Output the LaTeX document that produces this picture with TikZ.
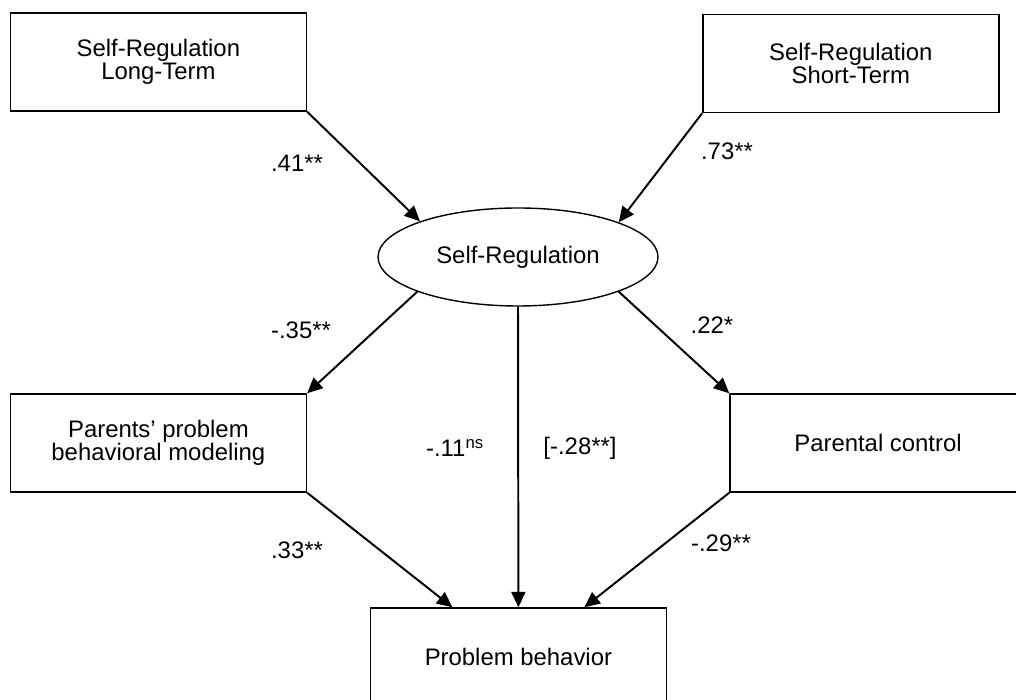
\documentclass[tikz,border=0pt]{standalone}
\usepackage{fontspec}
\setmainfont{Liberation Sans}
\usetikzlibrary{arrows.meta,shapes.geometric}
\begin{document}
\begin{tikzpicture}[
  box/.style={draw, line width=1pt, rectangle, minimum width=7.4cm, minimum height=2.45cm, align=center, inner sep=0pt},
  latent/.style={draw, line width=1pt, ellipse, minimum width=7cm, minimum height=2.45cm, inner sep=0pt},
  arr/.style={line width=1.4pt, -{Triangle[length=11pt,width=10pt]}},
  coef/.style={inner sep=0pt},
  font=\fontsize{17}{16.5}\selectfont]
\useasboundingbox (0,0) rectangle (25.4,17.5);
\clip (0,0) rectangle (25.4,17.5);
% Indicateurs
\node[box] (srlong) at (3.96,15.95) {Self-Regulation\\Long-Term};
\node[box] (srshort) at (21.27,15.91) {Self-Regulation\\Short-Term};
% Variable latente
\node[latent] (sr) at (12.95,11.075) {Self-Regulation};
% Mediateurs
\node[box] (model) at (3.96,6.425) {Parents’ problem\\behavioral modeling};
\node[box] (control) at (21.95,6.425) {Parental control};
% Resultat
\node[box] (pb) at (12.96,1.075) {Problem behavior};
% Fleches
\draw[arr] (srlong.south east) -- (sr.160.7);
\draw[arr] (srshort.south west) -- (sr.19.3);
\draw[arr] (sr.199.3) -- (model.north east);
\draw[arr] (sr.-19.3) -- (control.north west);
\draw[arr] (sr.south) -- (pb.north);
\draw[arr] (model.south east) -- ([xshift=-1.65cm]pb.north);
\draw[arr] (control.south west) -- ([xshift=1.65cm]pb.north);
% Coefficients
\node[coef] (c41) at (7.425,13.425) {.41**};
\node[coef] (c73) at (18.175,13.725) {.73**};
\node[coef] (c35) at (7.525,9.25) {-.35**};
\node[coef] (c22) at (17.8,9.375) {.22*};
\node[coef] (c11) at (11.375,6.3) {-.11\textsuperscript{ns}};
\node[coef] (c28) at (14.5,6.3) {[-.28**]};
\node[coef] (c33) at (7.425,3.75) {.33**};
\node[coef] (c29) at (18.025,3.925) {-.29**};
\end{tikzpicture}
\end{document}
